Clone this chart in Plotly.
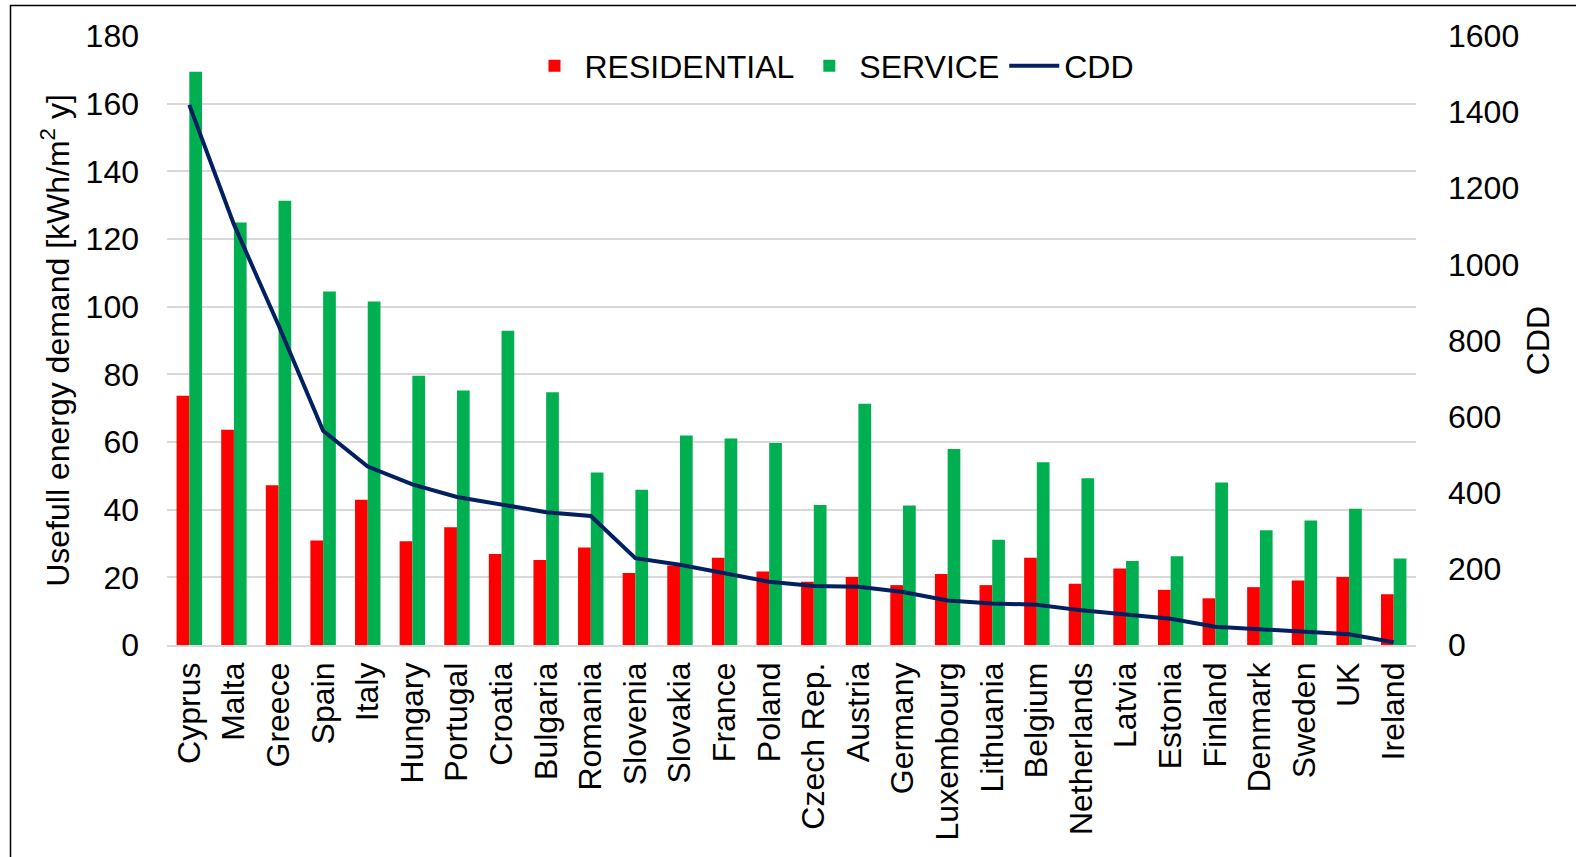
import plotly.graph_objects as go

countries = ["Cyprus", "Malta", "Greece", "Spain", "Italy", "Hungary", "Portugal", "Croatia",
             "Bulgaria", "Romania", "Slovenia", "Slovakia", "France", "Poland", "Czech Rep.",
             "Austria", "Germany", "Luxembourg", "Lithuania", "Belgium", "Netherlands", "Latvia",
             "Estonia", "Finland", "Denmark", "Sweden", "UK", "Ireland"]

residential = [73.7, 63.6, 47.2, 30.9, 42.9, 30.7, 34.8, 26.9, 25.1, 28.8, 21.3, 23.5, 25.8, 21.7,
               18.7, 20.1, 17.7, 21.0, 17.7, 25.8, 18.1, 22.6, 16.3, 13.8, 17.1, 19.1, 20.1, 15.0]
service = [169.4, 124.9, 131.3, 104.5, 101.5, 79.6, 75.2, 92.9, 74.7, 51.0, 45.9, 61.9, 61.0, 59.7,
           41.4, 71.3, 41.2, 57.9, 31.1, 54.0, 49.3, 24.8, 26.2, 48.0, 33.9, 36.8, 40.3, 25.6]
cdd = [1419, 1105, 840, 563, 469, 422, 389, 369, 349, 339, 228, 211, 188, 166,
       155, 153, 139, 117, 109, 106, 91, 81, 69, 48, 41, 35, 28, 7]

left_ticks = [0, 20, 40, 60, 80, 100, 120, 140, 160, 180]
right_ticks = [0, 200, 400, 600, 800, 1000, 1200, 1400, 1600]

FONT = "Liberation Sans, Arial, sans-serif"
FS = 32

fig = go.Figure()
fig.add_trace(go.Bar(x=countries, y=residential, name="RESIDENTIAL",
                     marker=dict(color="#FF0000", line=dict(width=0))))
fig.add_trace(go.Bar(x=countries, y=service, name="SERVICE",
                     marker=dict(color="#00B050", line=dict(width=0))))
fig.add_trace(go.Scatter(x=countries, y=cdd, name="CDD", mode="lines", yaxis="y2",
                         line=dict(color="#002060", width=4)))

W, H = 1576, 857
L, R, T, B = 167, 160, 36, 212
pw, ph = W - L - R, H - T - B

def px_x(p):
    return (p - L) / pw

def px_y(p):
    return (H - B - p) / ph

fig.update_layout(
    width=W, height=H,
    margin=dict(l=L, r=R, t=T, b=B, pad=0, autoexpand=False),
    paper_bgcolor="white", plot_bgcolor="white",
    font=dict(family=FONT, size=FS, color="black"),
    barmode="group", bargap=0.43, bargroupgap=0,
    showlegend=True,
    legend=dict(orientation="h", x=px_x(832), xanchor="center", y=px_y(66), yanchor="middle",
                bgcolor="white", font=dict(size=FS), itemwidth=50, traceorder="normal"),
    xaxis=dict(tickangle=-90, showgrid=False, showline=True, linecolor="#d9d9d9", linewidth=1.5,
               ticks="", ticklabelstandoff=3, tickfont=dict(size=FS)),
    yaxis=dict(range=[0, 180], tickvals=left_ticks, showgrid=True, gridcolor="#d9d9d9",
               gridwidth=1.5, zeroline=False, showline=False, ticks="", ticklabelstandoff=27,
               tickfont=dict(size=FS),
               title=dict(text="Usefull energy demand [kWh/m<sup>2</sup> y]", font=dict(size=FS),
                          standoff=6)),
    yaxis2=dict(range=[0, 1600], tickvals=right_ticks, overlaying="y", side="right",
                showgrid=False, zeroline=False, showline=False, ticks="", ticklabelstandoff=31,
                tickfont=dict(size=FS),
                title=dict(text="CDD", font=dict(size=FS), standoff=8)),
)

fig.add_shape(type="rect", xref="paper", yref="paper",
              x0=px_x(10.5), x1=px_x(W + 5), y0=px_y(H + 5), y1=px_y(5.5),
              line=dict(color="black", width=1.5), fillcolor="rgba(0,0,0,0)", layer="above")

fig.write_html("out.html", config={"displayModeBar": False},
               post_script="document.body.style.margin='0px';document.body.style.overflow='hidden';")
